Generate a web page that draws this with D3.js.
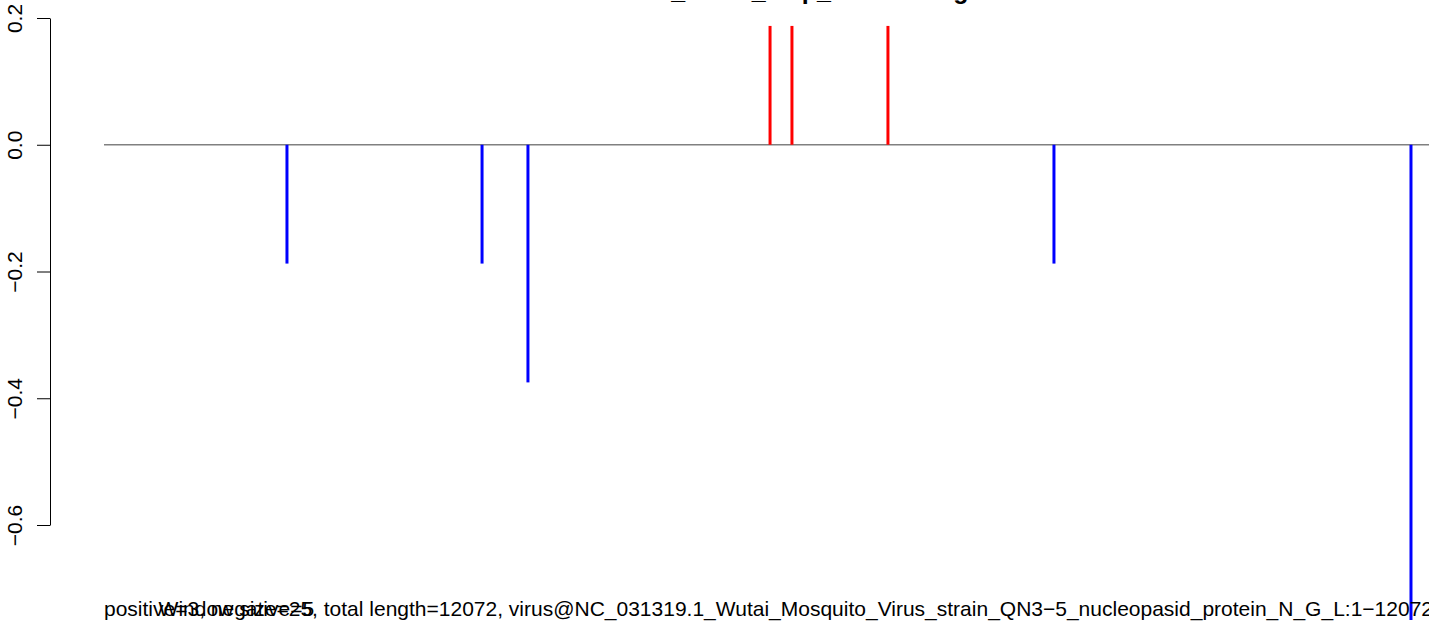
<!DOCTYPE html>
<html>
<head>
<meta charset="utf-8">
<script src="https://cdn.jsdelivr.net/npm/d3@7"></script>
<style>
  body { margin: 0; background: #fff; }
  svg { display: block; font-family: "Liberation Sans", Arial, sans-serif; }
</style>
</head>
<body>
<script>
// genome positions of the windows and their values
var positions = [1662, 3434, 3851, 6050, 6249, 7121, 8629, 11872]
var values = [-0.1875, -0.1875, -0.375, 0.1875, 0.1875, 0.1875, -0.1875, -0.75]
var yticks = [-0.6, -0.4, -0.2, 0.0, 0.2]
var genomeLength = 12072

var titleText = "Window_reads_map_distributing"
var infoText = "Window size=25, total length=12072, virus@NC_031319.1_Wutai_Mosquito_Virus_strain_QN3\u22125_nucleopasid_protein_N_G_L:1\u221212072"
var countText = "positive=3, negative=5"

window.onload = draw

function draw()
{
  var width = 1429, height = 627

  var svg = d3.select("body").append("svg")
              .attr("width", width)
              .attr("height", height)

  var x = d3.scaleLinear().domain([0, genomeLength]).range([104, 1433])
  var y = d3.scaleLinear().domain([-0.6, 0.2]).range([525, 18])

  // y axis
  var yaxis = svg.append("g")
                 .attr("transform", "translate(50,0)")
                 .call(d3.axisLeft(y)
                         .tickValues(yticks)
                         .tickSize(13)
                         .tickSizeOuter(0)
                         .tickPadding(0)
                         .tickFormat(d3.format(".1f")))
  yaxis.select(".domain").attr("stroke", "#000").attr("stroke-width", 1)
  yaxis.selectAll(".tick line").attr("stroke", "#000")
  yaxis.selectAll(".tick text")
       .attr("fill", "#000")
       .attr("font-size", 21)
       .attr("text-anchor", "middle")
       .attr("dy", null)
       .attr("x", null)
       .attr("transform", "translate(-36,0) rotate(-90)")
       .attr("dominant-baseline", "central")

  // zero line
  svg.append("line")
     .attr("x1", x(0)).attr("x2", width)
     .attr("y1", y(0)).attr("y2", y(0))
     .attr("stroke", "#808080")
     .attr("stroke-width", 1.3)

  // bars
  var bars = positions.map(function(p, i) { return {pos: p, val: values[i]} })
  svg.selectAll(".bar").data(bars).enter().append("line")
     .attr("class", "bar")
     .attr("x1", function(d) { return x(d.pos) })
     .attr("x2", function(d) { return x(d.pos) })
     .attr("y1", y(0))
     .attr("y2", function(d) { return y(d.val) })
     .attr("stroke", function(d) { return d.val > 0 ? "#ff0000" : "#0000ff" })
     .attr("stroke-width", 3)

  // title, mostly above the page
  svg.append("text")
     .attr("x", 772).attr("y", -1.5)
     .attr("text-anchor", "middle")
     .attr("font-size", 25)
     .attr("font-weight", "bold")
     .text(titleText)

  // bottom lines, overlapping like in the original
  svg.append("text")
     .attr("x", 104).attr("y", 616)
     .attr("font-size", 21)
     .text(countText)
  svg.append("text")
     .attr("x", 1433).attr("y", 616)
     .attr("text-anchor", "end")
     .attr("font-size", 21)
     .text(infoText)
}
</script>
</body>
</html>
